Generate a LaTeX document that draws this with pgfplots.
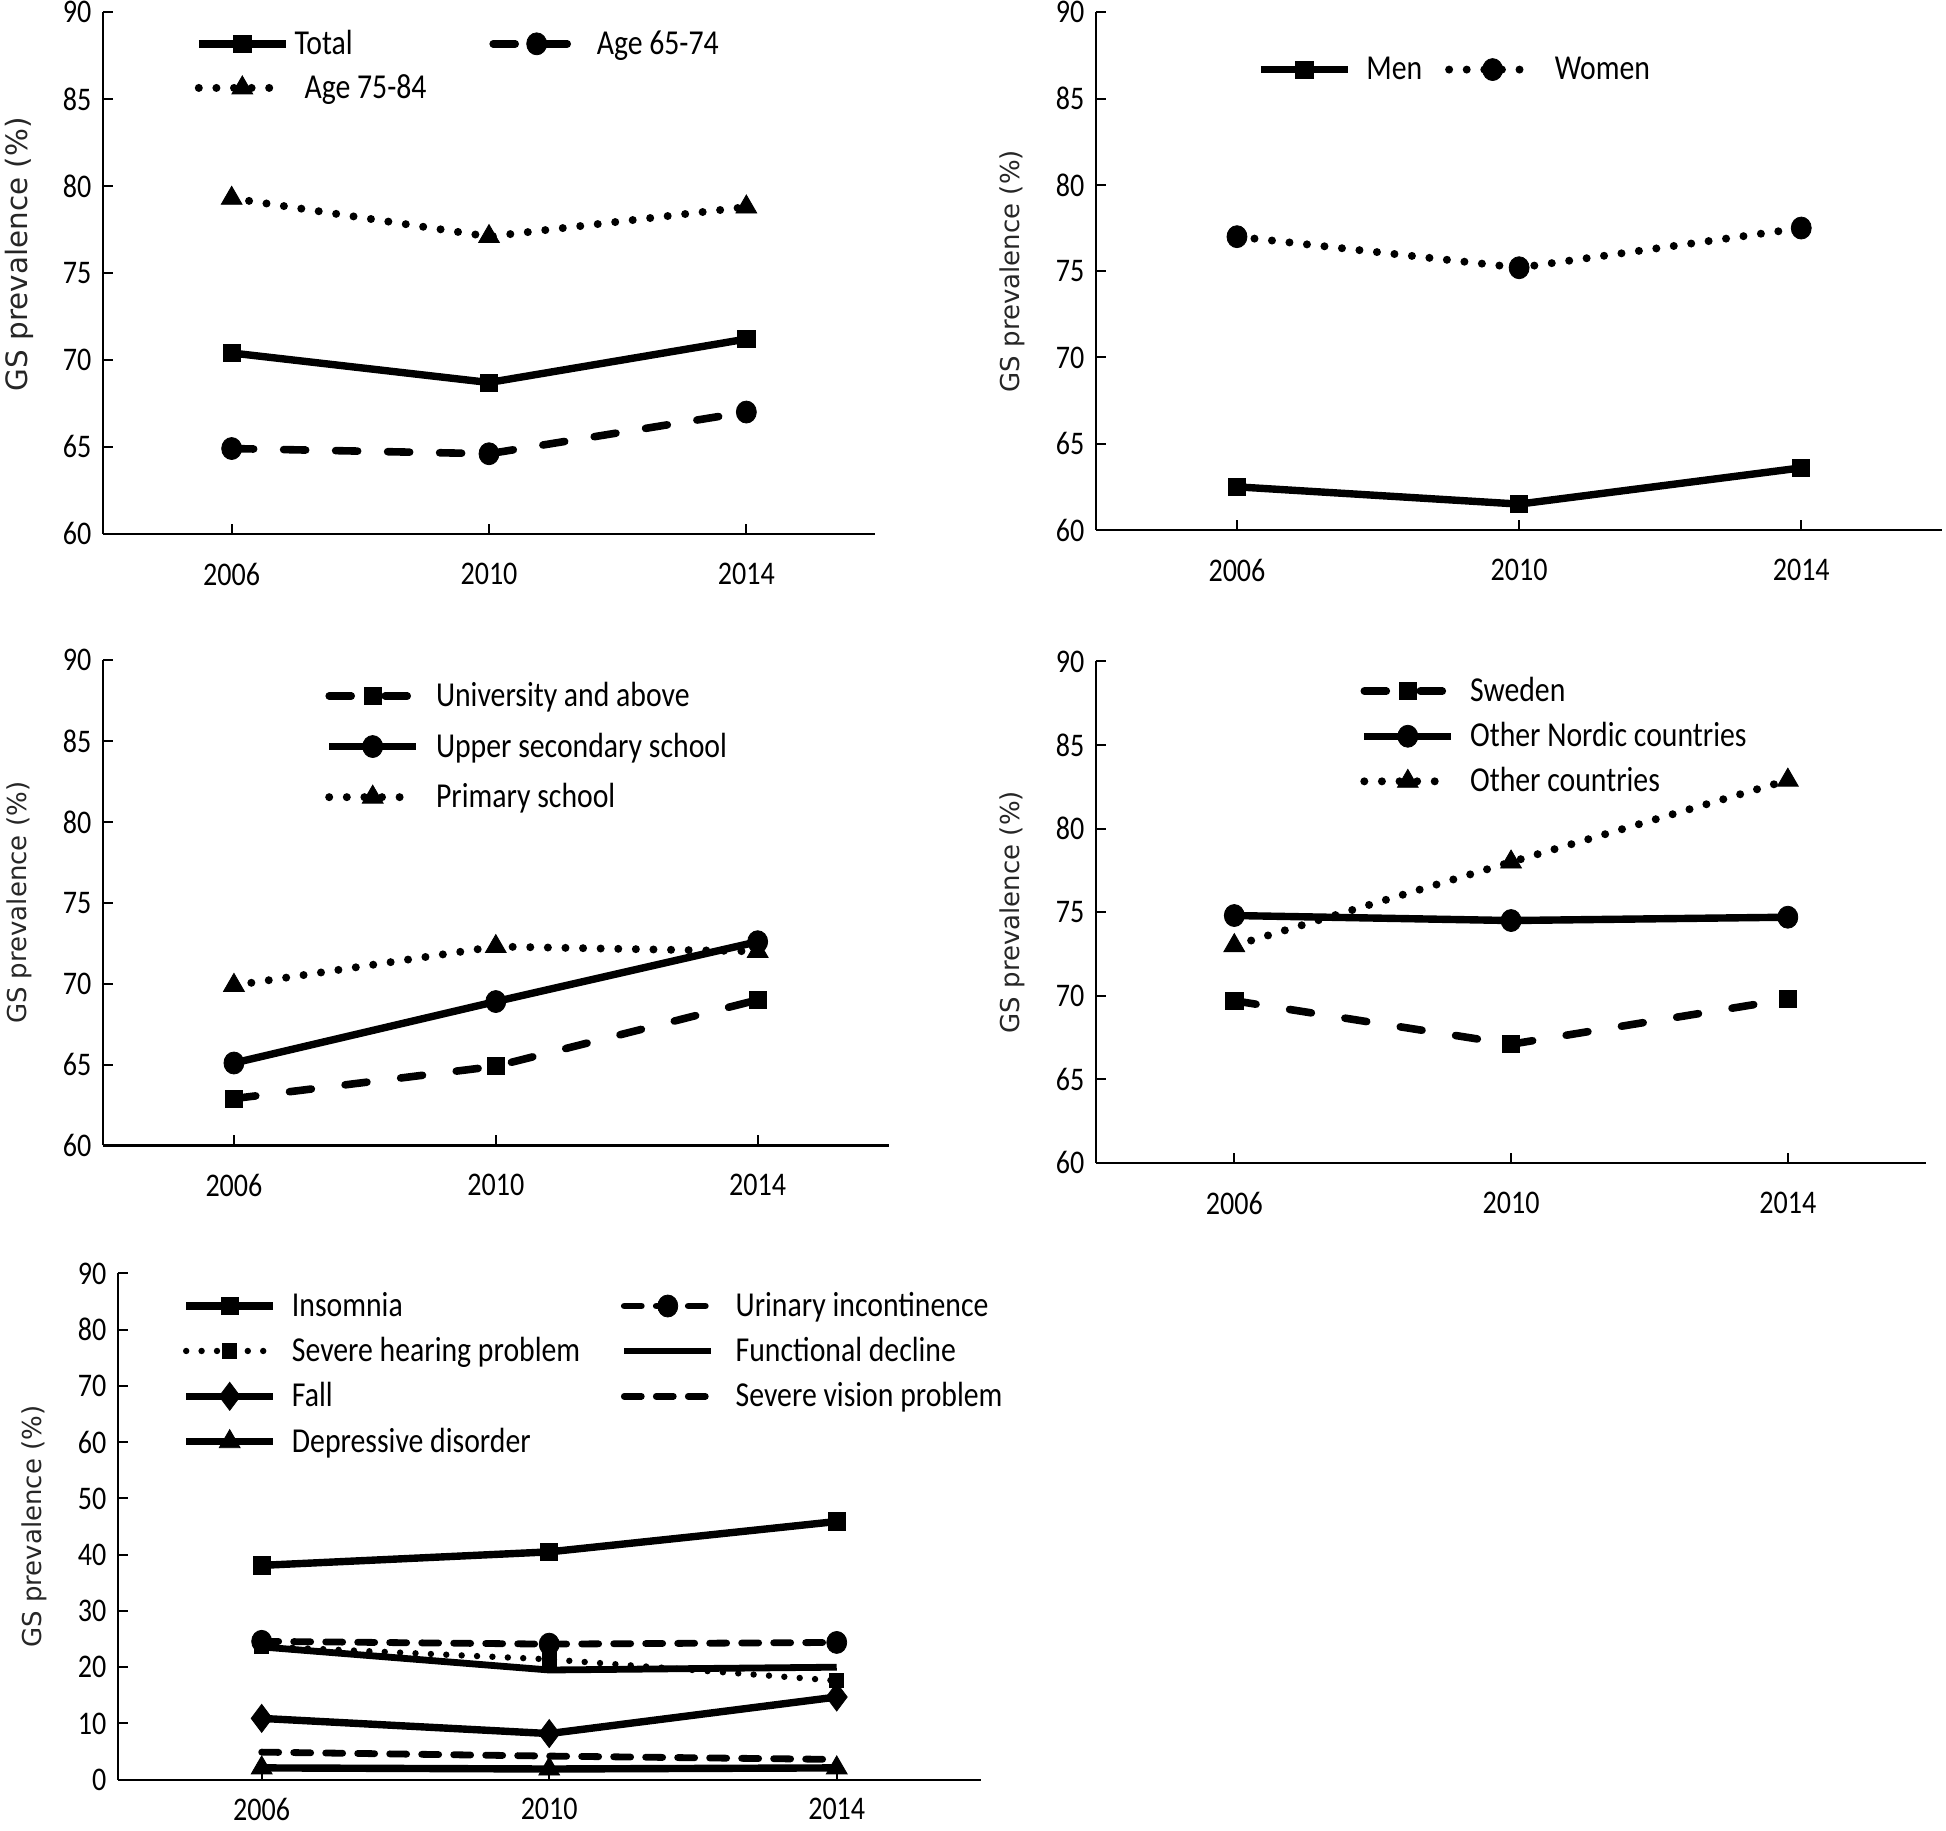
\documentclass[border=0pt]{standalone}
\usepackage{pgfplots}
\pgfplotsset{compat=1.18}
\usepackage{fontspec}
\setmainfont{Carlito}[FakeStretch=0.85]
\newfontfamily\labfont{DejaVu Sans}
\begin{document}
\begin{tikzpicture}
\useasboundingbox (0,0) rectangle (973pt,915pt);
\pgfplotsset{
  panel/.style={
    anchor=south west, scale only axis, clip=false,
    axis lines=left, axis line style={line width=1.1pt, -},
    xmin=-0.5, xmax=2.5,
    xtick={0,1,2}, xticklabels={2006,2010,2014},
    tick align=inside, major tick length=5pt,
    tick style={line width=1pt, black},
    ticklabel style={font=\fontsize{16.5}{18}\selectfont},
    yticklabel style={xshift=-2.3pt},
    /pgf/number format/assume math mode=true,
    every axis y label/.style={at={(axis description cs:0,0.5)}, rotate=90, anchor=center, yshift=42pt},
    ylabel={GS prevalence (\%)},
    ylabel style={font=\labfont\fontsize{13}{15}\selectfont, color=black!85},
    legend style={draw=none, fill=none, inner sep=0pt, outer sep=0pt, anchor=north west,
      at={(0,1)}, font=\fontsize{17.5}{20}\selectfont, legend cell align=left,
      nodes={inner xsep=0pt, inner ysep=0pt}},
    legend image code/.code={\draw[mark repeat=2,mark phase=2] plot coordinates {(0pt,0pt) (21.75pt,0pt) (43.5pt,0pt)};},
  },
  sl/.style={black, line width=3.7pt, solid},
  dl/.style={black, line width=3.8pt, line cap=round, dash pattern=on 11pt off 17pt},
  dls/.style={black, line width=3.4pt, line cap=round, dash pattern=on 8.5pt off 7.5pt},
  ol/.style={black, line width=4pt, line cap=round, dash pattern=on 0pt off 8.8pt},
  sq/.style={mark=square*, mark size=4.3pt, mark options={solid, fill=black, line width=0.4pt}},
  ci/.style={mark=*, mark size=5pt, mark options={solid, fill=black, line width=0.4pt, yscale=1.1}},
  tr/.style={mark=triangle*, mark size=6pt, mark options={solid, fill=black, line width=0.4pt}},
  di/.style={mark=diamond*, mark size=7pt, mark options={solid, fill=black, line width=0.4pt}},
}
\newcommand{\vp}{\rule[-3.5pt]{0pt}{15pt}}

% Panel 1
\begin{axis}[panel, at={(51.5pt,648.15pt)}, width=386pt, height=260.65pt,
  ymin=60, ymax=90, ytick={60,65,...,90},
  xticklabel style={yshift=-11pt},
  ylabel style={font=\labfont\fontsize{14.7}{16}\selectfont},
  every axis y label/.append style={at={(axis description cs:0,0.536)}},
  legend columns=2,
  legend style={xshift=45.9pt, yshift=-8.9pt, column sep=2.4pt, row sep=8.5pt}]
\addplot[sl, sq] coordinates {(0,70.4) (1,68.7) (2,71.2)};
\addlegendentry{\makebox[95pt][l]{\vp Total}}
\addplot[dl, ci, dash pattern=on 11pt off 15pt] coordinates {(0,64.9) (1,64.6) (2,67.0)};
\addlegendentry{\hspace{4pt}\vp Age 65-74}
\addplot[ol, tr] coordinates {(0,79.3) (1,77.1) (2,78.8)};
\addlegendentry{\hspace{5pt}\vp Age 75-84}
\end{axis}

% Panel 2
\begin{axis}[panel, at={(547.95pt,650pt)}, width=423.2pt, height=258.8pt,
  ymin=60, ymax=90, ytick={60,65,...,90},
  xticklabel style={yshift=-11pt},
  legend columns=2,
  legend style={xshift=80.6pt, yshift=-22.1pt, column sep=7.4pt}]
\addplot[sl, sq] coordinates {(0,62.5) (1,61.5) (2,63.6)};
\addlegendentry{\makebox[32pt][l]{\vp Men}}
\addplot[ol, ci] coordinates {(0,77.0) (1,75.2) (2,77.5)};
\addlegendentry{\vp Women}
\end{axis}

% Panel 3
\begin{axis}[panel, at={(51.5pt,342.25pt)}, width=392.8pt, height=242.6pt,
  ymin=60, ymax=90, ytick={60,65,...,90},
  xticklabel style={yshift=-11pt},
  legend style={xshift=111.1pt, yshift=-11pt, column sep=7.9pt, row sep=11.65pt}]
\addplot[dl, sq] coordinates {(0,62.9) (1,64.9) (2,69.0)};
\addlegendentry{\vp University and above}
\addplot[sl, ci] coordinates {(0,65.1) (1,68.9) (2,72.6)};
\addlegendentry{\vp Upper secondary school}
\addplot[ol, tr] coordinates {(0,69.9) (1,72.3) (2,72.0)};
\addlegendentry{\vp Primary school}
\end{axis}

% Panel 4
\begin{axis}[panel, at={(547.95pt,333.55pt)}, width=415.15pt, height=250.7pt,
  ymin=60, ymax=90, ytick={60,65,...,90},
  xticklabel style={yshift=-11pt},
  legend style={xshift=132.2pt, yshift=-8pt, column sep=7.4pt, row sep=8.9pt}]
\addplot[dl, sq] coordinates {(0,69.7) (1,67.1) (2,69.8)};
\addlegendentry{\vp Sweden}
\addplot[sl, ci] coordinates {(0,74.8) (1,74.5) (2,74.7)};
\addlegendentry{\vp Other Nordic countries}
\addplot[ol, tr] coordinates {(0,73.0) (1,78.0) (2,82.9)};
\addlegendentry{\vp Other countries}
\end{axis}

% Panel 5
\begin{axis}[panel, at={(58.95pt,25.15pt)}, width=431.3pt, height=253.15pt,
  ymin=0, ymax=90, ytick={0,10,...,90},
  xticklabel style={yshift=-5.5pt},
  legend columns=2,
  legend style={xshift=32.3pt, yshift=-9.5pt, column sep=7.5pt, row sep=8.85pt}]
\addplot[sl, sq] coordinates {(0,38.1) (1,40.5) (2,45.9)};
\addlegendentry{\makebox[157pt][l]{\vp Insomnia}}
\addplot[dls, ci] coordinates {(0,24.6) (1,24.1) (2,24.4)};
\addlegendentry{\hspace{3pt}\vp Urinary incontinence}
\addplot[black, line width=3.2pt, line cap=round, dash pattern=on 0pt off 7.7pt, mark=square*, mark size=2.2pt, mark options={solid, fill=black}] coordinates {(0,23.7) (1,21.4) (2,17.6)};
\addlegendentry{\vp Severe hearing problem}
\addplot[sl, line width=3.4pt] coordinates {(0,23.6) (1,19.5) (2,20.0)};
\addlegendentry{\hspace{3pt}\vp Functional decline}
\addplot[sl, di] coordinates {(0,10.9) (1,8.2) (2,14.7)};
\addlegendentry{\vp Fall}
\addplot[dls] coordinates {(0,4.9) (1,4.2) (2,3.6)};
\addlegendentry{\hspace{3pt}\vp Severe vision problem}
\addplot[sl, tr] coordinates {(0,2.1) (1,1.9) (2,2.1)};
\addlegendentry{\vp Depressive disorder}
\end{axis}
\end{tikzpicture}
\end{document}
